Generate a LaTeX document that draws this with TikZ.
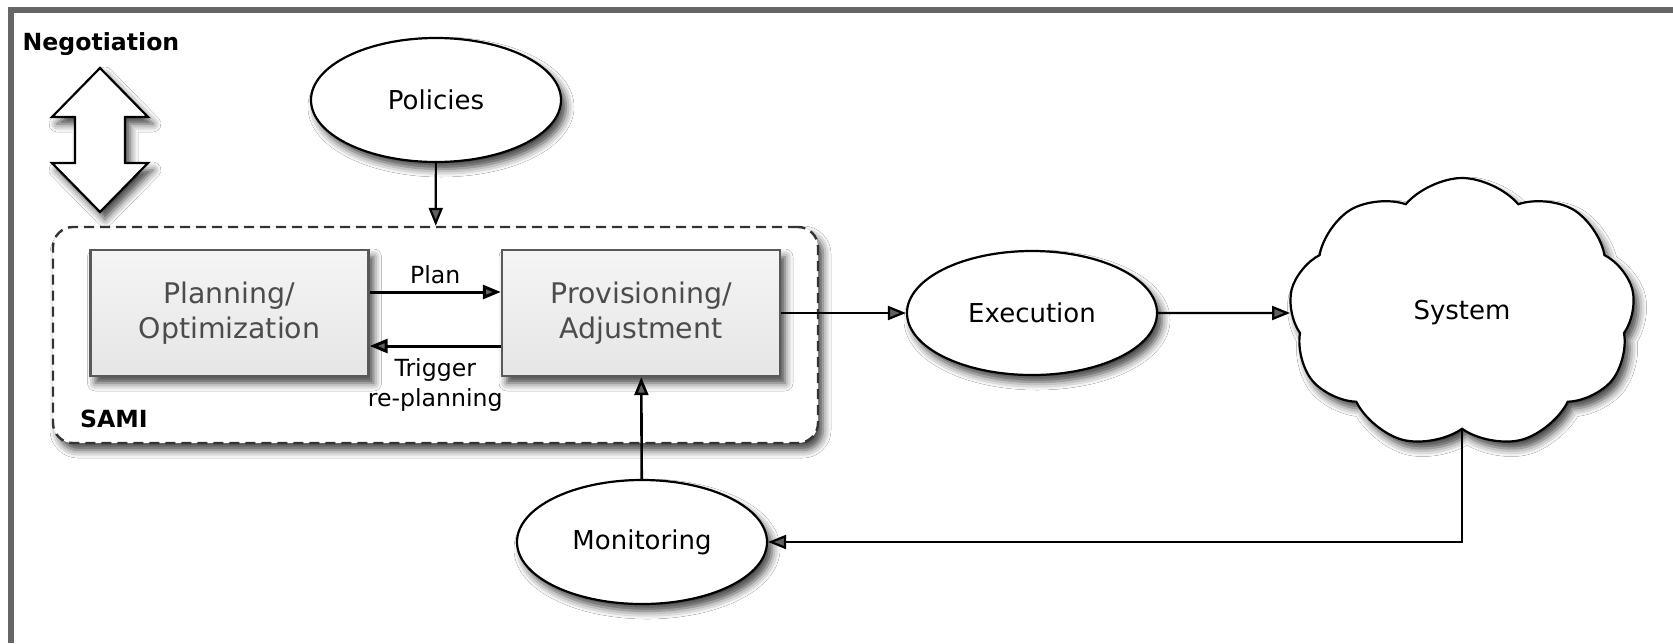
\documentclass[tikz,border=0pt]{standalone}
\usepackage{fontspec}
\setmainfont{DejaVu Sans}
\usetikzlibrary{shapes,arrows.meta,shadows.blur}

\begin{document}
\begin{tikzpicture}[x=0.5pt,y=-0.5pt,>={Triangle[length=9pt,width=7pt]},line width=1.1pt]
\tikzstyle{blurred}=[blur shadow={shadow xshift=2.5pt,shadow yshift=-3.5pt,shadow blur radius=4pt,shadow opacity=75}]
\tikzstyle{oval}=[ellipse,draw,fill=white,blurred,minimum width=125pt,minimum height=62pt,font=\fontsize{13}{15}\selectfont]
\tikzstyle{task}=[rectangle,draw=black!65,line width=1.2pt,top color=black!4,bottom color=black!10,blurred,minimum width=139pt,minimum height=63pt,align=center,text=black!70,font=\fontsize{14.2}{17.5}\selectfont]
\tikzstyle{note}=[align=center,font=\fontsize{11.8}{15}\selectfont]
\tikzstyle{heading}=[font=\fontsize{11.8}{15}\selectfont\bfseries]
\useasboundingbox (0,0) rectangle (1673,643);
\fill[white] (0,0) rectangle (1673,643);
\fill[black!60] (8,7) rectangle (1673,13);
\fill[black!60] (8,7) rectangle (14,643);

\node[heading](nego) at (101,44) {Negotiation};
\draw[fill=white,blurred] (100,68) -- (148,117) -- (125,117) -- (125,163) -- (148,163) -- (100,212) -- (52,163) -- (75,163) -- (75,117) -- (52,117) -- cycle;

\node[draw=black!80,dashed,dash pattern=on 5pt off 3pt,line width=1.2pt,rounded corners=10pt,fill=white,blurred,minimum width=382.5pt,minimum height=108pt](sami) at (435.5,335) {};
\node[heading](samitext) at (114,419) {SAMI};

\node[oval](policies) at (436,100) {Policies};
\node[task](plan) at (229.5,313) {Planning/\\Optimization};
\node[task](prov) at (641,313) {Provisioning/\\Adjustment};
\node[oval](exec) at (1032,313) {Execution};
\node[cloud,cloud puffs=9,cloud puff arc=100,aspect=1.28,draw,fill=white,blurred,minimum width=173pt,minimum height=135pt,font=\fontsize{13}{15}\selectfont](system) at (1462,313) {System};
\node[oval](mon) at (642,542) {Monitoring};

\draw[->] (policies) -- (sami);
\draw[->,line width=1.5pt] ([yshift=10.5pt]plan.east) -- node[note,above]{Plan} ([yshift=10.5pt]prov.west);
\draw[->,line width=1.5pt] ([yshift=-16.5pt]prov.west) -- node[note,below,yshift=-2pt]{Trigger\\re-planning} ([yshift=-16.5pt]plan.east);
\draw[->] (prov) -- (exec);
\draw[->] (exec) -- (system);
\draw[->] (system.south) |- (mon);
\draw[->,line width=1.3pt] (mon) -- (prov);
\end{tikzpicture}
\end{document}
